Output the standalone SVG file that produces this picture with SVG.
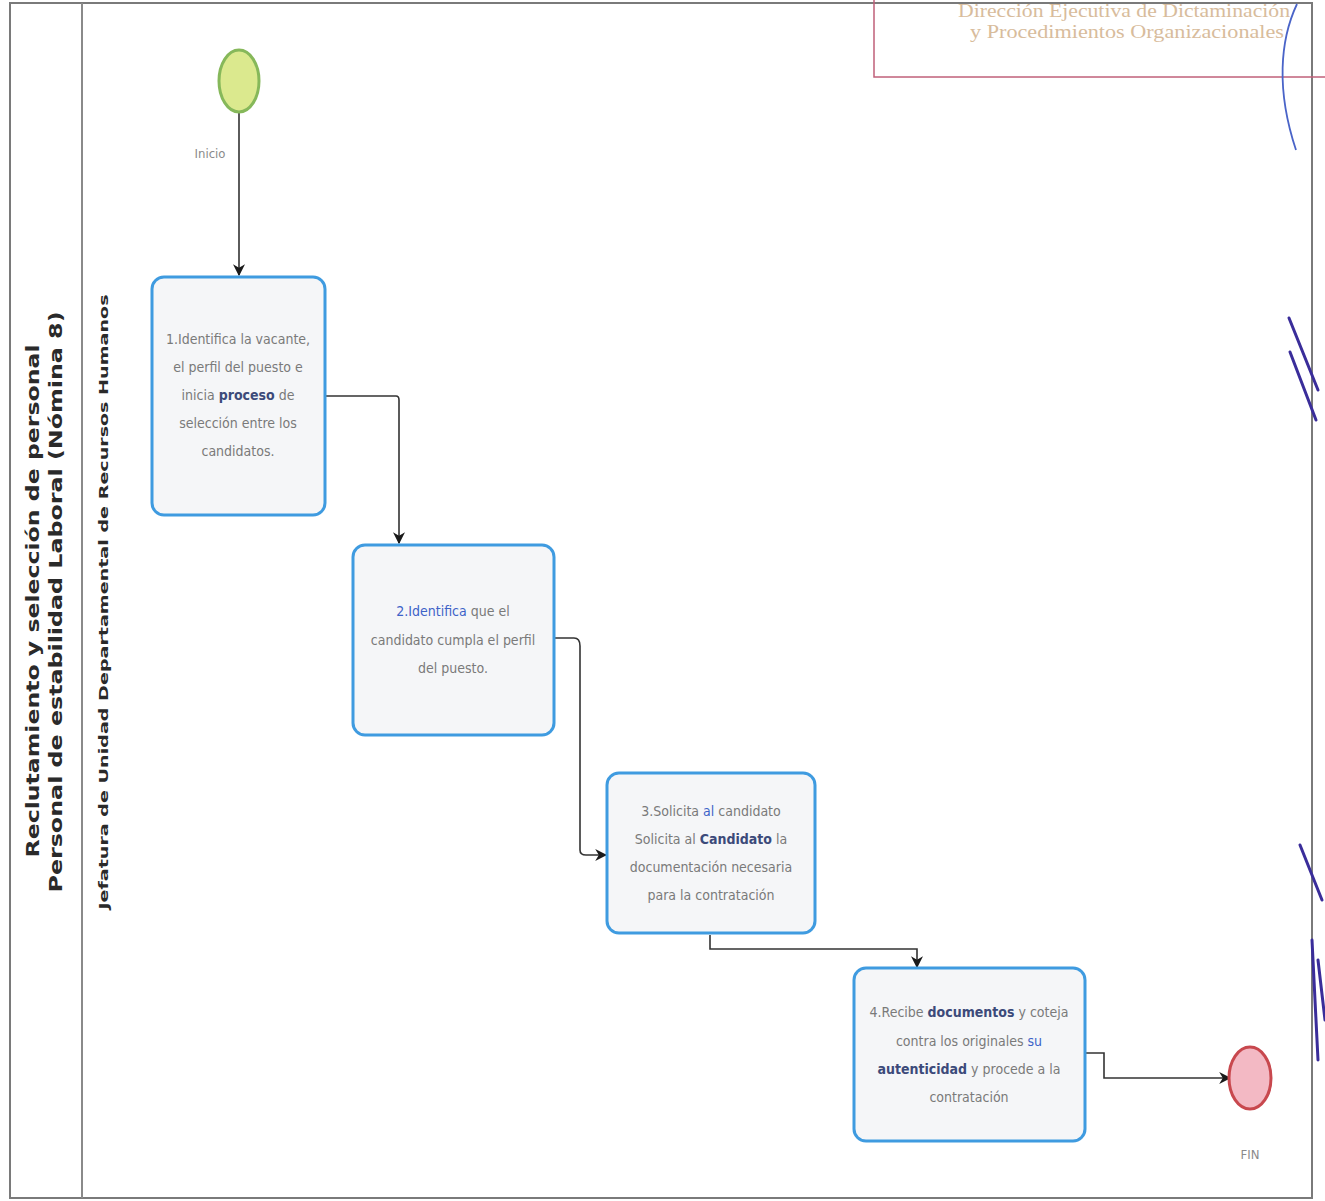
<svg xmlns="http://www.w3.org/2000/svg" width="1325" height="1201" viewBox="0 0 1325 1201">
  <defs>
    <marker id="arrow" viewBox="0 0 10 10" refX="9" refY="5" markerWidth="12" markerHeight="12" orient="auto" markerUnits="userSpaceOnUse">
      <path d="M0,0 L10,5 L0,10 L3,5 z" fill="#1a1a1a"/>
    </marker>
    <style>
      .task { fill: #f5f6f8; stroke: #3f9be0; stroke-width: 3; }
      .tt { font-family: "Liberation Sans Narrow", "DejaVu Sans Condensed", "Liberation Sans", sans-serif; font-size: 14px; fill: #7a7a7a; text-anchor: middle; }
      .hl { fill: #3c4a7a; font-weight: bold; }
      .lk { fill: #3d63c8; }
      .conn { fill: none; stroke: #333; stroke-width: 1.6; }
      .lane { font-family: "DejaVu Sans", "Liberation Sans", sans-serif; font-weight: bold; fill: #2a2a2a; text-anchor: middle; }
      .small { font-family: "Liberation Sans Narrow", "DejaVu Sans Condensed", sans-serif; font-size: 13px; fill: #8a8a8a; text-anchor: middle; }
      .stamp { font-family: "Liberation Serif", serif; font-size: 18px; fill: #d8bc9c; text-anchor: middle; }
      .sig { fill: none; stroke: #3a2d9a; stroke-width: 3; stroke-linecap: round; }
    </style>
  </defs>

  <rect width="1325" height="1201" fill="#ffffff"/>

  <!-- pool frame and lane divider -->
  <g id="pool">
    <rect x="10" y="3" width="1302" height="1195" fill="none" stroke="#7a7a7a" stroke-width="2"/>
    <line x1="82" y1="3" x2="82" y2="1198" stroke="#8a8a8a" stroke-width="2"/>
    <text class="lane" font-size="17" transform="translate(39,601) rotate(-90)" textLength="513" lengthAdjust="spacingAndGlyphs">Reclutamiento y selección de personal</text>
    <text class="lane" font-size="17" transform="translate(62,602) rotate(-90)" textLength="581" lengthAdjust="spacingAndGlyphs">Personal de estabilidad Laboral (Nómina 8)</text>
    <text class="lane" font-size="13" transform="translate(108,602) rotate(-90)" textLength="615" lengthAdjust="spacingAndGlyphs">Jefatura de Unidad Departamental de Recursos Humanos</text>
  </g>

  <!-- header stamp -->
  <g id="stamp">
    <rect x="874" y="-10" width="460" height="87" fill="none" stroke="#c0607a" stroke-width="1.5"/>
    <text class="stamp" x="1124" y="17" textLength="332" lengthAdjust="spacingAndGlyphs">Dirección Ejecutiva de Dictaminación</text>
    <text class="stamp" x="1127" y="38" textLength="314" lengthAdjust="spacingAndGlyphs">y Procedimientos Organizacionales</text>
    <path d="M1297,4 C1280,40 1276,90 1296,150" fill="none" stroke="#4a64c8" stroke-width="1.8"/>
  </g>

  <!-- signature strokes along right edge -->
  <g id="marks">
    <path class="sig" d="M1289,318 L1318,390"/>
    <path class="sig" d="M1290,352 L1316,420"/>
    <path class="sig" d="M1300,845 L1322,900"/>
    <path class="sig" d="M1312,940 L1318,1060"/>
    <path class="sig" d="M1318,960 L1325,1020"/>
  </g>

  <!-- connectors -->
  <g id="connectors">
    <path class="conn" d="M239,112 L239,275" marker-end="url(#arrow)"/>
    <path class="conn" d="M325,396 L396,396 Q399,396 399,400 L399,543" marker-end="url(#arrow)"/>
    <path class="conn" d="M554,638 L574,638 Q580,638 580,646 L580,850 Q580,855 586,855 L606,855" marker-end="url(#arrow)"/>
    <path class="conn" d="M710,935 L710,949 L917,949 L917,967" marker-end="url(#arrow)"/>
    <path class="conn" d="M1085,1053 L1104,1053 L1104,1078 L1230,1078" marker-end="url(#arrow)"/>
  </g>

  <!-- start event -->
  <g id="start">
    <ellipse cx="239" cy="81" rx="20" ry="31" fill="#dbe98e" stroke="#86b85a" stroke-width="3"/>
    <text class="small" x="210" y="158">Inicio</text>
  </g>

  <!-- task 1 -->
  <g id="task1">
    <rect class="task" x="152" y="277" width="173" height="238" rx="12"/>
    <text class="tt" x="238" y="344">1.Identifica la vacante,</text>
    <text class="tt" x="238" y="372">el perfil del puesto e</text>
    <text class="tt" x="238" y="400">inicia <tspan class="hl">proceso</tspan> de</text>
    <text class="tt" x="238" y="428">selección entre los</text>
    <text class="tt" x="238" y="456">candidatos.</text>
  </g>

  <!-- task 2 -->
  <g id="task2">
    <rect class="task" x="353" y="545" width="201" height="190" rx="12"/>
    <text class="tt" x="453" y="616"><tspan class="lk">2.Identifica</tspan> que el</text>
    <text class="tt" x="453" y="645">candidato cumpla el perfil</text>
    <text class="tt" x="453" y="673">del puesto.</text>
  </g>

  <!-- task 3 -->
  <g id="task3">
    <rect class="task" x="607" y="773" width="208" height="160" rx="12"/>
    <text class="tt" x="711" y="816">3.Solicita <tspan class="lk">al</tspan> candidato</text>
    <text class="tt" x="711" y="844">Solicita al <tspan class="hl">Candidato</tspan> la</text>
    <text class="tt" x="711" y="872">documentación necesaria</text>
    <text class="tt" x="711" y="900">para la contratación</text>
  </g>

  <!-- task 4 -->
  <g id="task4">
    <rect class="task" x="854" y="968" width="231" height="173" rx="12"/>
    <text class="tt" x="969" y="1017">4.Recibe <tspan class="hl">documentos</tspan> y coteja</text>
    <text class="tt" x="969" y="1046">contra los originales <tspan class="lk">su</tspan></text>
    <text class="tt" x="969" y="1074"><tspan class="hl">autenticidad</tspan> y procede a la</text>
    <text class="tt" x="969" y="1102">contratación</text>
  </g>

  <!-- end event -->
  <g id="end">
    <ellipse cx="1250" cy="1078" rx="21" ry="31" fill="#f3b9c4" stroke="#c8484e" stroke-width="3"/>
    <text class="small" x="1250" y="1159">FIN</text>
  </g>
</svg>
